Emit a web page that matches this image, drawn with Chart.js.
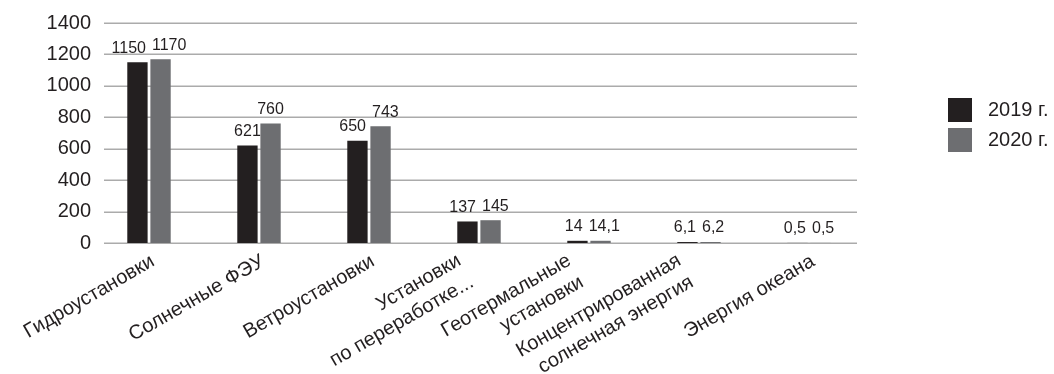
<!DOCTYPE html>
<html>
<head>
<meta charset="utf-8">
<script src="https://cdn.jsdelivr.net/npm/chart.js@4/dist/chart.umd.min.js"></script>
<style>
  html, body { margin: 0; padding: 0; background: #fff; }
  #wrap { width: 1054px; height: 374px; }
</style>
</head>
<body>
<div id="wrap"><canvas id="chart" width="1054" height="374"></canvas></div>
<script>
/* ---------- data ---------- */
const categories = [
  "Гидроустановки",
  "Солнечные ФЭУ",
  "Ветроустановки",
  ["Установки", "по переработке..."],
  ["Геотермальные", "установки"],
  ["Концентрированная", "солнечная энергия"],
  "Энергия океана"
];
const values2019 = [1150, 621, 650, 137, 14, 6.1, 0.5];
const values2020 = [1170, 760, 743, 145, 14.1, 6.2, 0.5];
const seriesNames = ["2019 г.", "2020 г."];
const yTicks = [0, 200, 400, 600, 800, 1000, 1200, 1400];

const FONT = "'Liberation Sans', Arial, sans-serif";
const TEXT = "#231f20";
const COLORS = ["#231f20", "#6d6e71"];

// russian decimal comma
function fmt(v) {
  return String(v).replace(".", ",");
}

/* ---------- gridlines (excel style, inset from plot edges) ---------- */
const gridPlugin = {
  id: "excelGrid",
  beforeDatasetsDraw(chart) {
    const ctx = chart.ctx;
    const y = chart.scales.y;
    ctx.save();
    ctx.strokeStyle = "#ababab";
    ctx.lineWidth = 1.5;
    yTicks.forEach(t => {
      const py = Math.round(y.getPixelForValue(t)) + 0.25;
      ctx.beginPath();
      ctx.moveTo(104, py);
      ctx.lineTo(857, py);
      ctx.stroke();
    });
    ctx.restore();
  }
};

/* ---------- category labels, rotated like excel does ---------- */
const xLabels = {
  id: "xLabels",
  afterDraw(chart) {
    const ctx = chart.ctx;
    const x = chart.scales.x;
    const axisY = chart.chartArea.bottom;
    const lh = 25;
    ctx.save();
    ctx.font = "20px " + FONT;
    ctx.fillStyle = TEXT;
    ctx.textAlign = "right";
    ctx.textBaseline = "middle";
    categories.forEach((lab, i) => {
      const lines = Array.isArray(lab) ? lab : [lab];
      const n = lines.length;
      ctx.save();
      ctx.translate(x.getPixelForTick(i) + 4, axisY + 17);
      ctx.rotate(-Math.PI / 6);
      lines.forEach((ln, k) => {
        ctx.fillText(ln, n > 1 ? -20 : 0, (k - (n - 1) / 2) * lh);
      });
      ctx.restore();
    });
    ctx.restore();
  }
};

/* ---------- value labels above bars ---------- */
const valueLabels = {
  id: "valueLabels",
  afterDatasetsDraw(chart) {
    const ctx = chart.ctx;
    ctx.save();
    ctx.font = "16px " + FONT;
    ctx.fillStyle = TEXT;
    ctx.textAlign = "center";
    ctx.textBaseline = "bottom";
    const m0 = chart.getDatasetMeta(0).data;
    const m1 = chart.getDatasetMeta(1).data;
    m0.forEach((b0, j) => {
      const b1 = m1[j];
      const t0 = fmt(values2019[j]), t1 = fmt(values2020[j]);
      let x0 = b0.x, x1 = b1.x;
      const y0 = b0.y - 6, y1 = b1.y - 6;
      // push the pair apart when they would collide
      if (Math.abs(y0 - y1) < 17) {
        const need = (ctx.measureText(t0).width + ctx.measureText(t1).width) / 2 + 6;
        const have = x1 - x0;
        if (have < need) {
          x0 -= (need - have) / 2;
          x1 += (need - have) / 2;
        }
      }
      ctx.fillText(t0, x0, y0);
      ctx.fillText(t1, x1, y1);
    });
    ctx.restore();
  }
};

/* ---------- legend on the right ---------- */
const sideLegend = {
  id: "sideLegend",
  afterDraw(chart) {
    const ctx = chart.ctx;
    ctx.save();
    ctx.font = "20px " + FONT;
    ctx.textBaseline = "middle";
    chart.data.datasets.forEach((ds, i) => {
      const top = 98 + i * 30;
      ctx.fillStyle = ds.backgroundColor;
      ctx.fillRect(948, top, 24, 24);
      ctx.fillStyle = TEXT;
      ctx.fillText(ds.label, 988, top + 12);
    });
    ctx.restore();
  }
};

new Chart(document.getElementById("chart"), {
  type: "bar",
  data: {
    labels: categories,
    datasets: [
      { label: seriesNames[0], data: values2019, backgroundColor: COLORS[0] },
      { label: seriesNames[1], data: values2020, backgroundColor: COLORS[1] }
    ]
  },
  options: {
    responsive: false,
    animation: false,
    devicePixelRatio: 1,
    categoryPercentage: 0.42,
    barPercentage: 0.88,
    layout: { padding: { top: 23, right: 190, bottom: 0, left: 0 } },
    plugins: {
      legend: { display: false },
      tooltip: { enabled: false }
    },
    scales: {
      x: {
        grid: { display: false, drawTicks: false },
        border: { display: false },
        ticks: { display: false },
        afterFit(scale) { scale.height = 131; }
      },
      y: {
        min: 0,
        max: 1400,
        grid: { display: false, drawTicks: false },
        border: { display: false },
        ticks: {
          stepSize: 200,
          padding: 3,
          color: TEXT,
          font: { family: FONT, size: 20 },
          callback: v => String(v)
        },
        afterFit(scale) { scale.width = 94; }
      }
    }
  },
  plugins: [gridPlugin, xLabels, valueLabels, sideLegend]
});
</script>
</body>
</html>
